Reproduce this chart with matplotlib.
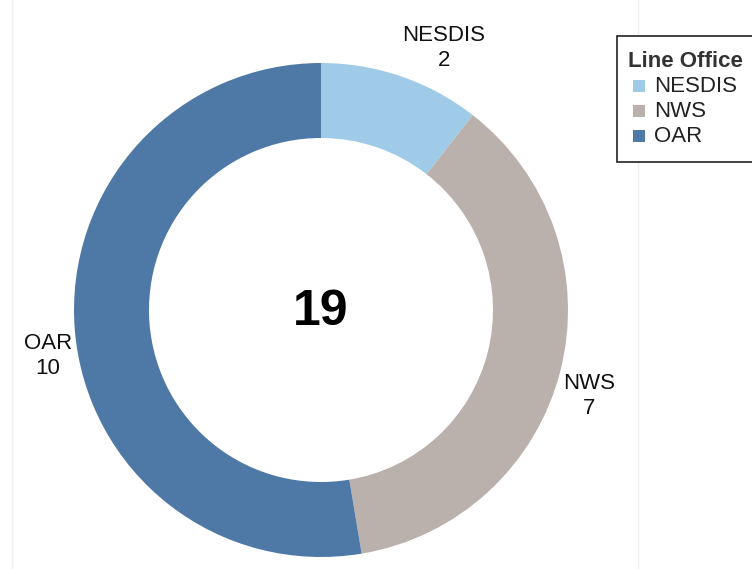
"""Donut chart of projects by NOAA line office."""

import matplotlib.pyplot as plt
from matplotlib.patches import Rectangle

plt.rcParams["font.family"] = ["Liberation Sans", "DejaVu Sans"]

# Data
offices = ["NESDIS", "NWS", "OAR"]
counts = [2, 7, 10]
colors = ["#A0CBE8", "#BAB0AC", "#4E79A7"]
legend_title = "Line Office"

W, H = 752, 569
fig = plt.figure(figsize=(W / 100, H / 100), dpi=100)
ax = fig.add_axes([0, 0, 1, 1])

# faint sheet dividers
for x in (12, 638):
    ax.plot([x, x], [0, H], color="#efefef", lw=1, zorder=0)

cx, cy = 321, H - 310
radius = 247
ax.pie(
    counts,
    colors=colors,
    startangle=90,
    counterclock=False,
    center=(cx, cy),
    radius=radius,
    wedgeprops=dict(width=75, linewidth=0),
    frame=True,
)
ax.set_xlim(0, W)
ax.set_ylim(0, H)
ax.set_aspect("equal")
ax.axis("off")

# slice labels
label_pos = [(444, 48), (589, 396), (48, 356)]
for name, n, (lx, ly) in zip(offices, counts, label_pos):
    ax.text(lx, H - ly, f"{name}\n{n}", ha="center", va="center",
            fontsize=16, linespacing=1.25, color="#111111")

# total in the middle
ax.text(cx, cy - 2, str(sum(counts)), ha="center", va="center",
        fontsize=36, fontweight="bold", color="black")

# legend (box runs off the right edge)
ax.add_patch(Rectangle((617, H - 162), 160, 126, facecolor="white",
                       edgecolor="#222222", lw=1.2, clip_on=False, zorder=3))
ax.text(628, H - 61, legend_title, ha="left", va="center", fontsize=16,
        fontweight="bold", color="#333333", zorder=4)
for i, (name, c) in enumerate(zip(offices, colors)):
    y = H - (86 + 25 * i)
    ax.add_patch(Rectangle((633, y - 6), 12, 12, facecolor=c,
                           edgecolor="none", zorder=4))
    ax.text(654, y, name, ha="left", va="center", fontsize=16,
            color="#222222", zorder=4)

fig.savefig("out.png", dpi=100)
